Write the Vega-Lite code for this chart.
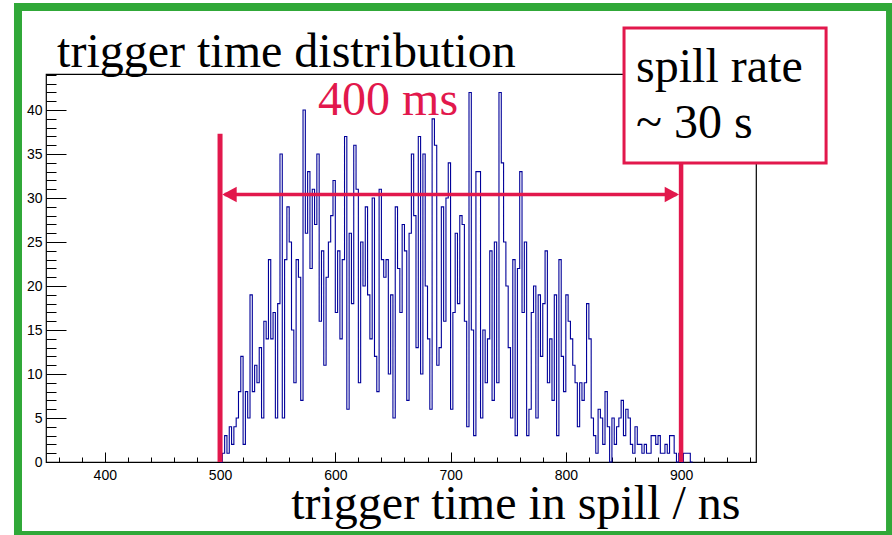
{
  "$schema": "https://vega.github.io/schema/vega-lite/v6.json",
  "width": 710,
  "height": 388,
  "autosize": {"type": "none"},
  "padding": {"left": 46, "top": 74, "right": 136, "bottom": 73},
  "background": "white",
  "config": {
    "view": {"stroke": "black", "strokeWidth": 1.2},
    "font": "Liberation Sans"
  },
  "resolve": {"axis": {"x": "independent", "y": "independent"}},
  "data": {"values": [{}]},
  "datasets": {
    "hist": [
      {"t": 500, "n": 0}, {"t": 502, "n": 1}, {"t": 504, "n": 3}, {"t": 506, "n": 1}, {"t": 508, "n": 4},
      {"t": 510, "n": 2}, {"t": 512, "n": 4}, {"t": 514, "n": 5}, {"t": 516, "n": 8}, {"t": 518, "n": 12},
      {"t": 520, "n": 2}, {"t": 522, "n": 8}, {"t": 524, "n": 5}, {"t": 526, "n": 19}, {"t": 528, "n": 8},
      {"t": 530, "n": 11}, {"t": 532, "n": 9}, {"t": 534, "n": 13}, {"t": 536, "n": 5}, {"t": 538, "n": 16},
      {"t": 540, "n": 14}, {"t": 542, "n": 23}, {"t": 544, "n": 14}, {"t": 546, "n": 17}, {"t": 548, "n": 5},
      {"t": 550, "n": 18}, {"t": 552, "n": 35}, {"t": 554, "n": 5}, {"t": 556, "n": 23}, {"t": 558, "n": 29},
      {"t": 560, "n": 25}, {"t": 562, "n": 15}, {"t": 564, "n": 9}, {"t": 566, "n": 23}, {"t": 568, "n": 21},
      {"t": 570, "n": 7}, {"t": 572, "n": 40}, {"t": 574, "n": 26}, {"t": 576, "n": 33}, {"t": 578, "n": 22},
      {"t": 580, "n": 31}, {"t": 582, "n": 27}, {"t": 584, "n": 35}, {"t": 586, "n": 16}, {"t": 588, "n": 24},
      {"t": 590, "n": 11}, {"t": 592, "n": 21}, {"t": 594, "n": 25}, {"t": 596, "n": 28}, {"t": 598, "n": 32},
      {"t": 600, "n": 17}, {"t": 602, "n": 24}, {"t": 604, "n": 14}, {"t": 606, "n": 23}, {"t": 608, "n": 37},
      {"t": 610, "n": 6}, {"t": 612, "n": 26}, {"t": 614, "n": 18}, {"t": 616, "n": 36}, {"t": 618, "n": 31},
      {"t": 620, "n": 9}, {"t": 622, "n": 25}, {"t": 624, "n": 20}, {"t": 626, "n": 29}, {"t": 628, "n": 19},
      {"t": 630, "n": 14}, {"t": 632, "n": 30}, {"t": 634, "n": 12}, {"t": 636, "n": 8}, {"t": 638, "n": 31},
      {"t": 640, "n": 23}, {"t": 642, "n": 21}, {"t": 644, "n": 23}, {"t": 646, "n": 10}, {"t": 648, "n": 19},
      {"t": 650, "n": 5}, {"t": 652, "n": 29}, {"t": 654, "n": 22}, {"t": 656, "n": 17}, {"t": 658, "n": 27},
      {"t": 660, "n": 24}, {"t": 662, "n": 7}, {"t": 664, "n": 26}, {"t": 666, "n": 35}, {"t": 668, "n": 28},
      {"t": 670, "n": 13}, {"t": 672, "n": 37}, {"t": 674, "n": 10}, {"t": 676, "n": 35}, {"t": 678, "n": 20},
      {"t": 680, "n": 14}, {"t": 682, "n": 6}, {"t": 684, "n": 39}, {"t": 686, "n": 36}, {"t": 688, "n": 11},
      {"t": 690, "n": 13}, {"t": 692, "n": 29}, {"t": 694, "n": 16}, {"t": 696, "n": 30}, {"t": 698, "n": 34},
      {"t": 700, "n": 6}, {"t": 702, "n": 17}, {"t": 704, "n": 26}, {"t": 706, "n": 18}, {"t": 708, "n": 28},
      {"t": 710, "n": 27}, {"t": 712, "n": 16}, {"t": 714, "n": 4}, {"t": 716, "n": 42}, {"t": 718, "n": 15},
      {"t": 720, "n": 3}, {"t": 722, "n": 33}, {"t": 724, "n": 33}, {"t": 726, "n": 5}, {"t": 728, "n": 15},
      {"t": 730, "n": 9}, {"t": 732, "n": 14}, {"t": 734, "n": 24}, {"t": 736, "n": 7}, {"t": 738, "n": 25},
      {"t": 740, "n": 9}, {"t": 742, "n": 42}, {"t": 744, "n": 34}, {"t": 746, "n": 25}, {"t": 748, "n": 20},
      {"t": 750, "n": 13}, {"t": 752, "n": 5}, {"t": 754, "n": 23}, {"t": 756, "n": 3}, {"t": 758, "n": 22},
      {"t": 760, "n": 33}, {"t": 762, "n": 17}, {"t": 764, "n": 25}, {"t": 766, "n": 3}, {"t": 768, "n": 6},
      {"t": 770, "n": 17}, {"t": 772, "n": 20}, {"t": 774, "n": 5}, {"t": 776, "n": 19}, {"t": 778, "n": 12},
      {"t": 780, "n": 18}, {"t": 782, "n": 24}, {"t": 784, "n": 9}, {"t": 786, "n": 14}, {"t": 788, "n": 7},
      {"t": 790, "n": 19}, {"t": 792, "n": 3}, {"t": 794, "n": 23}, {"t": 796, "n": 12}, {"t": 798, "n": 8},
      {"t": 800, "n": 19}, {"t": 802, "n": 16}, {"t": 804, "n": 14}, {"t": 806, "n": 11}, {"t": 808, "n": 9},
      {"t": 810, "n": 4}, {"t": 812, "n": 9}, {"t": 814, "n": 7}, {"t": 816, "n": 9}, {"t": 818, "n": 18},
      {"t": 820, "n": 14}, {"t": 822, "n": 5}, {"t": 824, "n": 3}, {"t": 826, "n": 1}, {"t": 828, "n": 6},
      {"t": 830, "n": 5}, {"t": 832, "n": 2}, {"t": 834, "n": 8}, {"t": 836, "n": 4}, {"t": 838, "n": 0},
      {"t": 840, "n": 5}, {"t": 842, "n": 2}, {"t": 844, "n": 4}, {"t": 846, "n": 5}, {"t": 848, "n": 7},
      {"t": 850, "n": 3}, {"t": 852, "n": 6}, {"t": 854, "n": 5}, {"t": 856, "n": 2}, {"t": 858, "n": 1},
      {"t": 860, "n": 4}, {"t": 862, "n": 2}, {"t": 864, "n": 2}, {"t": 866, "n": 1}, {"t": 868, "n": 2},
      {"t": 870, "n": 1}, {"t": 872, "n": 1}, {"t": 874, "n": 3}, {"t": 876, "n": 3}, {"t": 878, "n": 2},
      {"t": 880, "n": 3}, {"t": 882, "n": 1}, {"t": 884, "n": 1}, {"t": 886, "n": 2}, {"t": 888, "n": 1},
      {"t": 890, "n": 3}, {"t": 892, "n": 3}, {"t": 894, "n": 1}, {"t": 896, "n": 0}, {"t": 898, "n": 1},
      {"t": 900, "n": 0}, {"t": 902, "n": 1}, {"t": 904, "n": 1}, {"t": 906, "n": 1}, {"t": 908, "n": 0},
      {"t": 910, "n": 0}
    ]
  },
  "layer": [
    {
      "data": {"name": "hist"},
      "mark": {"type": "line", "interpolate": "step-after", "color": "#000099", "strokeWidth": 1.1},
      "encoding": {
        "x": {"field": "t", "type": "quantitative", "scale": {"domain": [349, 965], "nice": false, "zero": false},
          "axis": {
            "values": [360,380,400,420,440,460,480,500,520,540,560,580,600,620,640,660,680,700,720,740,760,780,800,820,840,860,880,900,920,940,960],
            "orient": "bottom",
            "domain": false, "grid": false,
            "tickColor": "black", "tickWidth": 1,
            "tickSize": {"condition": {"test": "datum.value % 100 === 0", "value": -10}, "value": -5},
            "labelExpr": "datum.value % 100 === 0 ? datum.label : ''",
            "labelFont": "Liberation Sans", "labelFontSize": 14, "labelColor": "black",
            "labelPadding": 16, "labelOverlap": false, "labelFlush": false, "labelBound": false,
            "title": "trigger time in spill / ns",
            "titleFont": "Liberation Serif", "titleFontSize": 48, "titleFontWeight": "normal", "titleColor": "black",
            "titleX": 694, "titleY": 56, "titleAlign": "right", "titleBaseline": "alphabetic", "titleAnchor": "end"
          }
        },
        "y": {"field": "n", "type": "quantitative", "scale": {"domain": [0, 44.1], "nice": false, "zero": false},
          "axis": {
            "values": [0,1,2,3,4,5,6,7,8,9,10,11,12,13,14,15,16,17,18,19,20,21,22,23,24,25,26,27,28,29,30,31,32,33,34,35,36,37,38,39,40,41,42,43,44],
            "orient": "left",
            "domain": false, "grid": false,
            "tickColor": "black", "tickWidth": 1,
            "tickSize": {"condition": {"test": "datum.value % 5 === 0", "value": -20}, "value": -10},
            "labelExpr": "datum.value % 5 === 0 ? datum.label : ''",
            "labelFont": "Liberation Sans", "labelFontSize": 14, "labelColor": "black",
            "labelPadding": 24, "labelOverlap": false, "labelFlush": false, "labelBound": false,
            "title": null
          }
        }
      }
    },
    {
      "mark": {"type": "rect", "filled": false, "color": "#30a838", "strokeWidth": 8, "clip": false},
      "encoding": {
        "x": {"datum": 324.7, "type": "quantitative", "axis": null},
        "x2": {"datum": 1081.3},
        "y": {"datum": -8.3, "type": "quantitative", "axis": null},
        "y2": {"datum": 51.72}
      }
    },
    {
      "mark": {"type": "rule", "color": "#e2184c", "strokeWidth": 5},
      "encoding": {
        "x": {"datum": 500, "type": "quantitative", "axis": null},
        "y": {"datum": 0, "type": "quantitative", "axis": null},
        "y2": {"datum": 37.3}
      }
    },
    {
      "mark": {"type": "rule", "color": "#e2184c", "strokeWidth": 4.5},
      "encoding": {
        "x": {"datum": 900, "type": "quantitative", "axis": null},
        "y": {"datum": 0, "type": "quantitative", "axis": null},
        "y2": {"datum": 34}
      }
    },
    {
      "mark": {"type": "rule", "color": "#e2184c", "strokeWidth": 3.5},
      "encoding": {
        "x": {"datum": 504, "type": "quantitative", "axis": null},
        "x2": {"datum": 896},
        "y": {"datum": 30.4, "type": "quantitative", "axis": null}
      }
    },
    {
      "mark": {"type": "point", "filled": true, "opacity": 1, "color": "#e2184c", "size": 207, "shape": "M -1 0 L 1 -1.08 L 1 1.08 Z"},
      "encoding": {
        "x": {"datum": 508.2, "type": "quantitative", "axis": null},
        "y": {"datum": 30.4, "type": "quantitative", "axis": null}
      }
    },
    {
      "mark": {"type": "point", "filled": true, "opacity": 1, "color": "#e2184c", "size": 207, "shape": "M 1 0 L -1 -1.08 L -1 1.08 Z"},
      "encoding": {
        "x": {"datum": 892.0, "type": "quantitative", "axis": null},
        "y": {"datum": 30.4, "type": "quantitative", "axis": null}
      }
    },
    {
      "mark": {"type": "rect", "fill": "white", "stroke": "#e2184c", "strokeWidth": 3, "clip": false},
      "encoding": {
        "x": {"datum": 850.5, "type": "quantitative", "axis": null},
        "x2": {"datum": 1025.8},
        "y": {"datum": 33.98, "type": "quantitative", "axis": null},
        "y2": {"datum": 49.32}
      }
    },
    {
      "mark": {"type": "text", "text": ["spill rate", "~ 30 s"], "align": "left", "baseline": "alphabetic", "lineHeight": 56, "font": "Liberation Serif", "fontSize": 48, "color": "black"},
      "encoding": {
        "x": {"datum": 860.95, "type": "quantitative", "axis": null},
        "y": {"datum": 43.18, "type": "quantitative", "axis": null}
      }
    },
    {
      "mark": {"type": "text", "text": "400 ms", "align": "center", "baseline": "alphabetic", "font": "Liberation Serif", "fontSize": 48, "color": "#e2184c"},
      "encoding": {
        "x": {"datum": 645.8, "type": "quantitative", "axis": null},
        "y": {"datum": 39.43, "type": "quantitative", "axis": null}
      }
    },
    {
      "mark": {"type": "text", "text": "trigger time distribution", "align": "left", "baseline": "alphabetic", "font": "Liberation Serif", "fontSize": 48, "color": "black"},
      "encoding": {
        "x": {"datum": 358.6, "type": "quantitative", "axis": null},
        "y": {"datum": 44.89, "type": "quantitative", "axis": null}
      }
    }
  ]
}
